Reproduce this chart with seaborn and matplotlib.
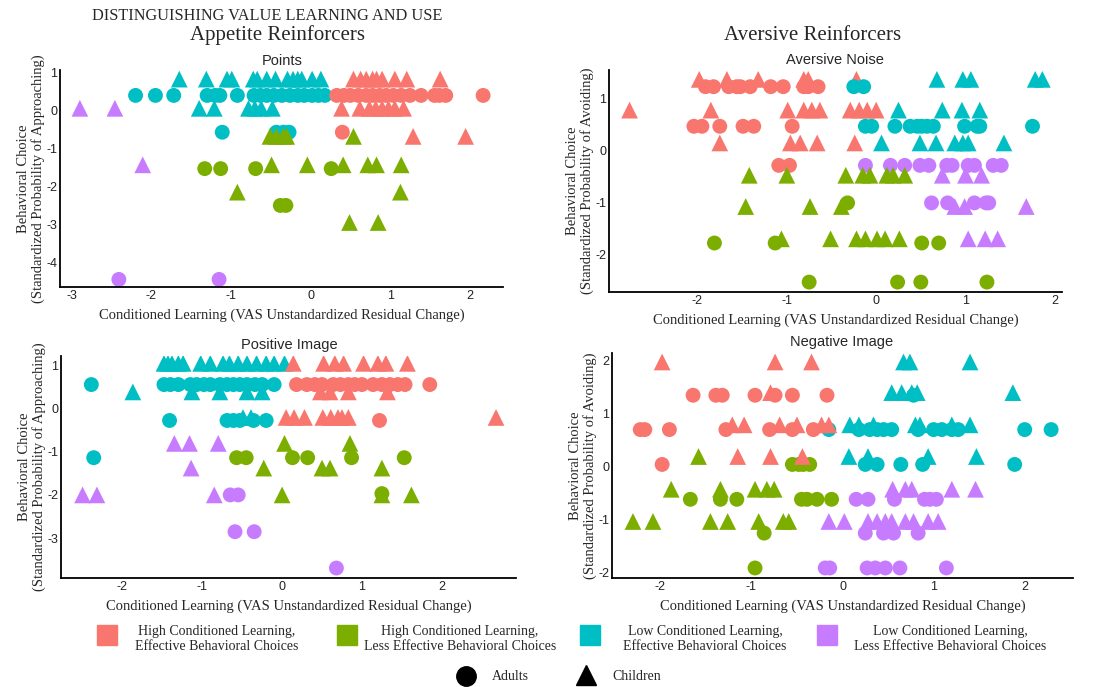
import matplotlib
matplotlib.use("Agg")
import matplotlib.pyplot as plt
from matplotlib.patches import Rectangle
from matplotlib.lines import Line2D
import numpy as np
import pandas as pd
import seaborn as sns

# Group labels and colours (ggplot default hue palette)
GROUP_LABELS = {
    "hi_eff": "High Conditioned Learning,\nEffective Behavioral Choices",
    "hi_less": "High Conditioned Learning,\nLess Effective Behavioral Choices",
    "lo_eff": "Low Conditioned Learning,\nEffective Behavioral Choices",
    "lo_less": "Low Conditioned Learning,\nLess Effective Behavioral Choices",
}
GROUP_COLORS = {"hi_eff": "#F8766D", "hi_less": "#7CAE00", "lo_eff": "#00BFC4", "lo_less": "#C77CFF"}
AGE_MARKERS = {"Adults": "o", "Children": "^"}
AGE_SIZES = {"Adults": 115, "Children": 145}

# Each row: (group, age, behavioural choice, [conditioned learning values])
points_rows = [
    ("lo_eff", "Children", 0.83, [-1.65, -1.31, -1.05, -0.99, -0.72, -0.67, -0.55, -0.44, -0.29, -0.22, -0.16, -0.11, 0.02, 0.13]),
    ("lo_eff", "Adults", 0.40, [-2.2, -1.95, -1.72, -1.30, -1.20, -1.14, -0.92, -0.71, -0.63, -0.55, -0.46, -0.36, -0.26, -0.16, -0.08, 0.02, 0.10, 0.18]),
    ("lo_eff", "Children", 0.06, [-1.40, -1.21, -0.78, -0.70, -0.62, -0.48]),
    ("lo_eff", "Adults", -0.57, [-1.11, -0.43, -0.34, -0.27]),
    ("hi_eff", "Children", 0.83, [0.54, 0.63, 0.70, 0.78, 0.83, 0.90, 1.06, 1.21, 1.63]),
    ("hi_eff", "Adults", 0.40, [0.33, 0.42, 0.50, 0.60, 0.70, 0.78, 0.87, 0.95, 1.04, 1.14, 1.25, 1.39, 1.56, 1.62, 1.70, 2.17]),
    ("hi_eff", "Children", 0.06, [0.39, 0.62, 0.74, 0.82, 0.90, 0.98, 1.06, 1.17]),
    ("hi_eff", "Adults", -0.57, [0.40]),
    ("hi_eff", "Children", -0.68, [1.29, 1.95]),
    ("hi_less", "Children", -0.68, [-0.51, -0.43, -0.34, -0.30, 0.54]),
    ("hi_less", "Adults", -1.53, [-1.33, -1.13, -0.69, 0.26]),
    ("hi_less", "Children", -1.43, [-0.49, -0.04, 0.41, 0.72, 0.83, 1.14]),
    ("hi_less", "Children", -2.15, [-0.92, 1.13]),
    ("hi_less", "Adults", -2.50, [-0.38, -0.31]),
    ("hi_less", "Children", -2.95, [0.49, 0.85]),
    ("lo_less", "Children", 0.06, [-2.9, -2.46]),
    ("lo_less", "Children", -1.43, [-2.11]),
    ("lo_less", "Adults", -4.45, [-2.41, -1.15]),
]

noise_rows = [
    ("hi_eff", "Children", 1.36, [-1.98, -1.67, -1.32, -0.81, -0.76, -0.22]),
    ("hi_eff", "Adults", 1.22, [-1.91, -1.82, -1.65, -1.56, -1.52, -1.41, -1.18, -1.04, -0.81, -0.76, -0.65]),
    ("lo_eff", "Adults", 1.22, [-0.25, -0.14]),
    ("lo_eff", "Children", 1.36, [0.68, 0.97, 1.06, 1.78, 1.86]),
    ("hi_eff", "Children", 0.77, [-2.76, -1.85, -0.99, -0.81, -0.72, -0.63, -0.29, -0.19, -0.10, 0.0]),
    ("lo_eff", "Children", 0.77, [0.25, 0.74, 0.96, 1.16]),
    ("hi_eff", "Adults", 0.46, [-2.04, -1.95, -1.75, -1.49, -1.37, -0.94]),
    ("lo_eff", "Adults", 0.46, [-0.12, -0.05, 0.21, 0.38, 0.46, 0.51, 0.57, 0.64, 0.99, 1.13, 1.16, 1.75]),
    ("hi_eff", "Children", 0.14, [-1.75, -0.96, -0.85, -0.66, -0.24]),
    ("lo_eff", "Children", 0.14, [0.06, 0.49, 0.67, 0.88, 0.97, 1.03, 1.43]),
    ("hi_eff", "Adults", -0.29, [-1.09, -0.97]),
    ("lo_less", "Adults", -0.29, [-0.12, 0.16, 0.32, 0.49, 0.59, 0.79, 0.85, 1.03, 1.10, 1.31, 1.40]),
    ("hi_less", "Children", -0.48, [-1.42, -1.0, -0.34, -0.15, -0.07, 0.12, 0.19, 0.32]),
    ("lo_less", "Children", -0.48, [0.74, 1.0, 1.18]),
    ("hi_less", "Children", -1.08, [-1.46, -0.74, -0.39]),
    ("hi_less", "Adults", -1.01, [-0.32]),
    ("lo_less", "Adults", -1.01, [0.62, 0.80, 1.10, 1.23, 1.26]),
    ("lo_less", "Children", -1.08, [0.88, 0.99, 1.68]),
    ("hi_less", "Adults", -1.78, [-1.81, -1.13, 0.51, 0.70]),
    ("hi_less", "Children", -1.70, [-1.06, -0.51, -0.22, -0.12, 0.01, 0.10, 0.26]),
    ("lo_less", "Children", -1.70, [1.03, 1.22, 1.36]),
    ("hi_less", "Adults", -2.53, [-0.75, 0.24, 0.50, 1.24]),
]

positive_rows = [
    ("lo_eff", "Children", 1.04, [-1.48, -1.43, -1.38, -1.30, -1.24, -1.02, -0.90, -0.74, -0.66, -0.55, -0.44, -0.32, -0.20, -0.10, 0.03]),
    ("hi_eff", "Children", 1.04, [0.14, 0.52, 0.66, 0.77, 1.02, 1.20, 1.30, 1.57]),
    ("lo_eff", "Children", 0.38, [-1.87, -1.13, -0.78, -0.44, -0.25]),
    ("hi_eff", "Children", 0.38, [0.48, 0.60, 0.83, 1.32]),
    ("lo_eff", "Adults", 0.55, [-2.39, -1.48, -1.40, -1.30, -1.15, -1.07, -0.98, -0.90, -0.78, -0.69, -0.61, -0.53, -0.44, -0.34, -0.25, -0.10]),
    ("hi_eff", "Adults", 0.55, [0.18, 0.31, 0.41, 0.50, 0.64, 0.73, 0.83, 0.91, 1.0, 1.14, 1.25, 1.35, 1.45, 1.54, 1.85]),
    ("lo_eff", "Adults", -0.28, [-1.41, -0.69, -0.61, -0.53, -0.36, -0.20]),
    ("lo_eff", "Children", -0.21, [-0.49, -0.39]),
    ("hi_eff", "Children", -0.21, [0.05, 0.15, 0.28, 0.51, 0.61, 0.70, 0.75, 0.83, 2.68]),
    ("hi_eff", "Adults", -0.28, [1.22]),
    ("lo_less", "Children", -0.81, [-1.35, -1.16, -0.80]),
    ("hi_less", "Children", -0.81, [0.03, 0.85]),
    ("lo_eff", "Adults", -1.14, [-2.36]),
    ("hi_less", "Adults", -1.14, [-0.57, -0.45, 0.13, 0.32, 0.87, 1.53]),
    ("lo_less", "Children", -1.38, [-1.14]),
    ("hi_less", "Children", -1.38, [-0.23, 0.50, 0.60, 1.25]),
    ("lo_less", "Children", -2.0, [-2.50, -2.32, -0.85]),
    ("lo_less", "Adults", -2.0, [-0.65, -0.55]),
    ("hi_less", "Children", -2.0, [0.0, 1.25, 1.62]),
    ("hi_less", "Adults", -1.97, [1.25]),
    ("lo_less", "Adults", -2.85, [-0.59, -0.35]),
    ("lo_less", "Adults", -3.69, [0.68]),
]

negative_rows = [
    ("hi_eff", "Children", 1.98, [-1.98, -0.74, -0.34]),
    ("lo_eff", "Children", 1.98, [0.67, 0.74, 1.40]),
    ("hi_eff", "Adults", 1.35, [-1.64, -1.39, -1.32, -0.96, -0.74, -0.55, -0.17]),
    ("hi_eff", "Children", 1.40, [-0.79]),
    ("lo_eff", "Children", 1.40, [0.54, 0.65, 0.76, 0.82, 1.87]),
    ("lo_eff", "Adults", 1.35, [0.78]),
    ("lo_eff", "Adults", 0.70, [-0.15, 0.18, 0.30, 0.38, 0.45, 0.54, 0.83, 1.0, 1.09, 1.20, 1.27, 2.0, 2.29]),
    ("hi_eff", "Adults", 0.70, [-2.22, -2.17, -1.90, -1.28, -0.80, -0.55, -0.32]),
    ("hi_eff", "Children", 0.79, [-1.21, -1.08, -0.69, -0.50, -0.23, -0.15]),
    ("lo_eff", "Children", 0.79, [0.08, 0.18, 0.34, 0.80, 0.85, 1.20, 1.40]),
    ("hi_eff", "Adults", 0.04, [-1.98]),
    ("hi_less", "Children", 0.19, [-1.58]),
    ("hi_less", "Adults", 0.04, [-0.55, -0.48, -0.43, -0.36]),
    ("hi_eff", "Children", 0.19, [-1.15, -0.79, -0.44]),
    ("lo_eff", "Children", 0.19, [0.07, 0.28, 0.94, 1.47]),
    ("lo_eff", "Adults", 0.04, [0.25, 0.38, 0.64, 0.88, 1.89]),
    ("hi_less", "Children", -0.43, [-1.88, -1.34, -0.96, -0.83, -0.75]),
    ("hi_less", "Adults", -0.62, [-1.67, -1.34, -1.16, -0.45, -0.39, -0.28, -0.12]),
    ("lo_less", "Adults", -0.62, [0.15, 0.28, 0.57, 0.90, 0.96, 1.03]),
    ("lo_less", "Children", -0.43, [0.55, 0.69, 0.76, 1.20, 1.46]),
    ("hi_less", "Children", -1.04, [-2.30, -2.08, -1.45, -1.26, -0.92, -0.65, -0.59]),
    ("hi_less", "Adults", -1.26, [-0.86]),
    ("lo_less", "Children", -1.04, [-0.15, 0.02, 0.28, 0.38, 0.47, 0.54, 0.69, 0.78, 0.94, 1.05]),
    ("lo_less", "Adults", -1.26, [0.25, 0.45, 0.56, 0.83]),
    ("hi_less", "Adults", -1.92, [-0.96]),
    ("lo_less", "Adults", -1.92, [-0.19, -0.14, 0.27, 0.36, 0.47, 0.63, 1.14]),
]


def to_frame(rows):
    recs = []
    for grp, age, y, xs in rows:
        for x in xs:
            recs.append({"group": grp, "age": age, "x": x, "y": y})
    return pd.DataFrame(recs)


sns.set_style("white")
SERIF = ["Liberation Serif", "DejaVu Serif"]
SANS = ["Liberation Sans", "DejaVu Sans"]
plt.rcParams["font.family"] = SANS
plt.rcParams["axes.unicode_minus"] = False

W, H = 1114, 687
fig = plt.figure(figsize=(W / 100, H / 100), dpi=100)


def add_axes_px(left, right, top, bottom):
    return fig.add_axes([left / W, (H - bottom) / H, (right - left) / W, (bottom - top) / H])


XLAB = "Conditioned Learning (VAS Unstandardized Residual Change)"
YLAB_APP = "Behavioral Choice\n(Standardized Probability of Approaching)"
YLAB_AV = "Behavioral Choice\n(Standardized Probability of Avoiding)"

panels = [
    (points_rows, (60, 503, 70, 287), (-3.15, 2.42), (-4.65, 1.07), [-3, -2, -1, 0, 1, 2], [-4, -3, -2, -1, 0, 1], YLAB_APP),
    (noise_rows, (609, 1062, 70, 292), (-2.99, 2.08), (-2.72, 1.54), [-2, -1, 0, 1, 2], [-2, -1, 0, 1], YLAB_AV),
    (positive_rows, (61, 516, 356, 578), (-2.77, 2.93), (-3.92, 1.21), [-2, -1, 0, 1, 2], [-3, -2, -1, 0, 1], YLAB_APP),
    (negative_rows, (612, 1073, 353, 578), (-2.53, 2.53), (-2.11, 2.15), [-2, -1, 0, 1, 2], [-2, -1, 0, 1, 2], YLAB_AV),
]

for rows, box, xlim, ylim, xticks, yticks, ylab in panels:
    ax = add_axes_px(*box)
    df = to_frame(rows)
    sns.scatterplot(data=df, x="x", y="y", hue="group", style="age", size="age",
                    palette=GROUP_COLORS, markers=AGE_MARKERS, sizes=AGE_SIZES,
                    linewidth=0, legend=False, ax=ax)
    ax.set_xlim(*xlim)
    ax.set_ylim(*ylim)
    ax.set_xticks(xticks)
    ax.set_yticks(yticks)
    ax.tick_params(length=0, labelsize=9, pad=2, colors="#222222")
    ax.set_xlabel(XLAB, fontsize=10.5, family=SERIF, labelpad=5)
    ax.set_ylabel(ylab, fontsize=10.5, family=SERIF, labelpad=1, linespacing=1.05)
    sns.despine(ax=ax)
    for sp in ("left", "bottom"):
        ax.spines[sp].set_color("black")
        ax.spines[sp].set_linewidth(1.3)


def ftext(x, y, s, **kw):
    fig.text(x / W, 1 - y / H, s, ha="center", va="center", **kw)


ftext(267, 16, "DISTINGUISHING VALUE LEARNING AND USE", fontsize=11.7, family=SERIF)
ftext(277, 35, "Appetite Reinforcers", fontsize=15, family=SERIF)
ftext(813, 35, "Aversive Reinforcers", fontsize=15, family=SERIF)
ftext(282, 61, "Points", fontsize=10.5, family=SANS)
ftext(835, 60, "Aversive Noise", fontsize=10.5, family=SANS)
ftext(289, 345, "Positive Image", fontsize=10.5, family=SANS)
ftext(842, 342, "Negative Image", fontsize=10.5, family=SANS)

# Bottom legend: colour groups
sq_x = [97, 337, 580, 817]
txt_x = [217, 460, 705, 950]
for key, sx, tx in zip(GROUP_LABELS, sq_x, txt_x):
    fig.patches.append(Rectangle((sx / W, 1 - 645 / H), 20 / W, 20 / H,
                                 transform=fig.transFigure, color=GROUP_COLORS[key]))
    fig.text(tx / W, 1 - 639 / H, GROUP_LABELS[key], ha="center", va="center",
             multialignment="center", fontsize=10, family=SERIF, linespacing=1.1)

# Bottom legend: shapes
fig.lines.append(Line2D([466 / W], [1 - 676 / H], marker="o", markersize=14, color="black",
                        linestyle="none", transform=fig.transFigure))
fig.text(492 / W, 1 - 676 / H, "Adults", ha="left", va="center", fontsize=10, family=SERIF)
fig.lines.append(Line2D([586 / W], [1 - 675 / H], marker="^", markersize=14, color="black",
                        linestyle="none", transform=fig.transFigure))
fig.text(612 / W, 1 - 676 / H, "Children", ha="left", va="center", fontsize=10, family=SERIF)

fig.savefig("out.png", dpi=100, facecolor="white")
